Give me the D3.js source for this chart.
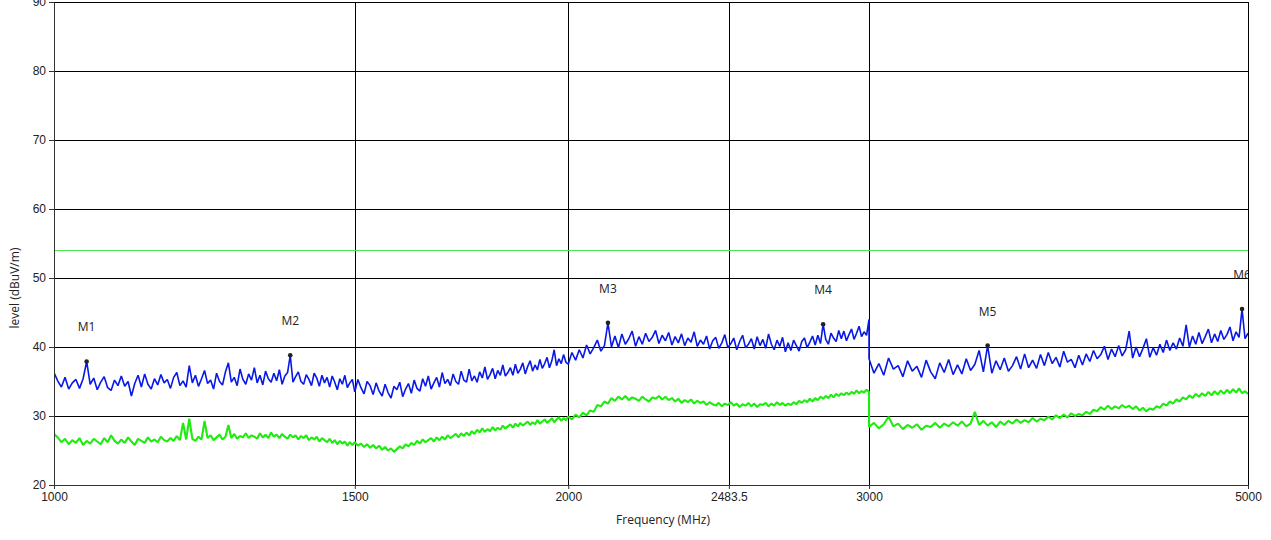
<!DOCTYPE html>
<html>
<head>
<meta charset="utf-8">
<script src="https://cdn.jsdelivr.net/npm/d3@7"></script>
<style>
  html, body { margin: 0; padding: 0; background: #fff; }
  svg { display: block; font-family: "Open Sans", "Noto Sans", sans-serif; }
  .axis text { font-size: 12px; fill: #222; }
  .axis path, .axis line { stroke: #333; }
</style>
</head>
<body>
<svg id="chart" width="1271" height="540"></svg>
<script>
// Sweep bands (MHz): [start, stop, step] - one level reading per step
var sweepBands = [[1000, 1495, 5], [1500, 1993.75, 6.25], [2000, 3000, 10], [3000, 5000, 20]];

// Peak trace (blue), dBuV/m
var blueA = [
  36.3, 35.1, 34.2, 35.6, 33.9, 34.8, 35.3, 34.0, 35.4, 37.9,
  34.6, 35.5, 33.8, 34.9, 35.7, 34.1, 33.7, 35.2, 34.4, 35.8,
  34.3, 35.0, 32.9, 34.7, 35.9, 34.2, 36.1, 34.6, 33.9, 35.4,
  34.5, 36.0, 34.8, 35.3, 34.0, 35.6, 36.3, 34.4, 35.1, 34.2,
  37.3, 34.8, 35.9, 34.3, 35.4, 36.6, 34.7, 35.2, 33.9, 36.2,
  35.0, 34.5, 36.4, 37.7, 34.9, 35.6, 34.4, 36.8, 35.3, 34.6,
  36.1, 35.2, 37.0, 34.8, 35.9, 34.5, 36.5, 35.4, 34.9, 36.2,
  35.1, 36.7, 34.6, 35.8, 36.3, 38.8, 34.9, 35.7, 36.4, 35.0,
  34.6, 36.0, 35.3, 34.4, 36.2, 35.5, 34.3, 35.9, 34.8, 35.6,
  34.2, 35.8, 34.9, 33.8, 35.4, 34.6, 35.9, 34.1, 34.8, 35.3
];
var blueB = [
  33.5, 35.3, 34.1, 33.2, 35.0, 34.4, 33.1, 34.8, 33.6, 32.9,
  34.6, 33.4, 32.6, 34.3, 33.8, 34.9, 32.8, 33.9, 34.7, 33.3,
  35.2, 34.0, 33.6, 35.4, 34.3, 35.8, 33.9, 34.8, 35.6, 34.2,
  36.3, 34.7, 35.3, 34.4, 36.1, 35.0, 34.6, 36.5, 35.2, 34.9,
  36.8, 35.1, 35.8, 34.9, 36.4, 35.5, 37.1, 35.3, 36.0, 36.9,
  35.4, 36.6, 35.9, 37.4, 35.8, 36.3, 37.0, 35.9, 37.5, 36.2,
  36.8, 37.7, 36.1, 37.2, 38.0, 36.5, 37.4, 36.7, 38.2, 36.9,
  37.6, 38.5, 37.0, 38.0, 39.6, 37.3, 38.3, 37.6, 38.9, 37.8
];
var blueC = [
  37.5, 39.2, 38.1, 39.6, 38.4, 40.3, 39.0, 39.9, 41.0, 39.4,
  40.2, 43.5, 40.0, 41.6, 39.9, 41.9, 40.4, 41.2, 42.3, 40.1,
  41.5, 40.4, 42.0, 40.8, 41.4, 42.4, 40.5, 41.7, 40.9, 42.1,
  40.3, 41.5, 40.6, 41.9, 40.2, 41.3, 40.7, 42.2, 40.1, 41.0,
  40.4, 41.6, 39.7, 40.9, 41.4, 39.8, 40.6, 41.8, 39.9, 40.5,
  41.3, 39.6, 40.8, 41.7, 39.9, 40.4, 41.2, 39.7, 41.5, 40.2,
  41.1, 39.8, 41.9, 40.4, 39.6, 41.0, 40.1, 41.4, 39.3, 40.6,
  39.5, 41.0, 40.2, 39.4, 40.8, 41.3, 39.9, 40.7, 41.6, 40.3,
  41.7, 40.5, 43.3, 41.1, 40.4, 42.0, 41.3, 40.8, 42.4, 41.2,
  42.3, 40.9, 41.8, 42.6, 41.1, 42.0, 43.0, 41.5, 42.2, 41.7,
  44.0
];
var blueD = [
  38.3, 36.2, 37.6, 35.9, 38.4, 36.8, 37.3, 35.7, 38.0, 36.5,
  37.2, 35.6, 38.1, 36.4, 35.4, 37.7, 36.3, 38.2, 36.0, 37.4,
  36.1, 38.3, 36.6, 37.5, 39.5, 36.4, 40.2, 36.2, 38.0, 36.7,
  38.4, 36.5, 37.3, 38.6, 36.8, 39.0, 37.0, 38.1, 36.9, 38.9,
  37.3, 39.2, 37.6, 38.5, 37.1, 39.4, 37.8, 38.2, 37.0, 38.8,
  37.4, 39.0, 37.9, 39.5, 38.3, 38.9, 40.1, 38.2, 39.7, 38.6,
  40.2, 38.7, 39.6, 42.3, 38.4, 40.0, 38.6, 39.8, 41.2, 38.5,
  39.9, 38.8, 40.4, 39.2, 41.0, 39.5, 40.6, 39.7, 41.3, 40.1,
  43.2, 40.0, 41.6, 40.4, 42.1, 40.5, 41.5, 42.6, 40.6, 41.9,
  40.8, 42.4, 41.1, 41.8, 42.9, 40.9, 42.2, 41.4, 45.5, 41.2,
  42.0
];

// Average trace (green), dBuV/m
var greenA = [
  27.4, 26.9, 26.2, 26.7, 25.9, 26.5, 26.1, 26.8, 25.8, 26.4,
  26.0, 26.7, 26.3, 25.9, 26.8, 26.2, 27.2, 26.4, 26.0, 26.6,
  26.1, 26.9, 26.3, 25.8, 26.7, 26.4, 26.1, 26.9, 26.3, 26.6,
  26.2, 27.0, 26.5, 26.3, 26.8, 26.4, 27.1, 26.5, 29.0, 26.6,
  29.6, 26.7, 26.4, 27.0, 26.6, 29.3, 26.8, 27.2, 26.5, 26.9,
  27.3, 26.6, 27.0, 28.7, 26.8, 27.4, 26.7, 27.1, 26.9, 27.5,
  26.8, 27.2, 27.0, 26.7, 27.5, 26.9, 27.3, 26.8, 27.6, 27.0,
  27.3, 26.8, 27.4, 27.0, 26.7, 27.3, 26.9, 27.2, 26.6, 27.1,
  26.8, 27.2, 26.5, 26.9, 26.6, 27.0, 26.3, 26.8, 26.5, 26.2,
  26.7, 26.1, 26.5, 25.9, 26.4, 26.0, 26.3, 25.7, 26.2, 25.8
];
var greenB = [
  26.2, 25.7, 26.0, 25.5, 25.9, 25.4, 25.8, 25.3, 25.7, 25.1,
  25.5, 25.0, 25.3, 24.8, 25.2, 25.6, 25.3, 25.9, 25.6, 26.1,
  25.8, 26.4, 26.0, 26.6, 26.2, 26.5, 26.8, 26.3, 26.9, 26.5,
  27.0, 26.6, 27.2, 26.8, 27.1, 27.4, 26.9, 27.5, 27.1, 27.6,
  27.2, 27.8, 27.4, 28.0, 27.6, 28.2, 27.7, 28.1, 27.8, 28.4,
  27.9, 28.3, 28.0, 28.6, 28.2, 28.5, 28.8, 28.3, 28.9, 28.5,
  29.0, 28.6, 28.9, 29.2, 28.7, 29.1, 28.8, 29.4, 28.9, 29.2,
  29.5, 29.0, 29.3, 29.7, 29.1, 29.5, 29.8, 29.3, 29.7, 29.4
];
var greenC = [
  29.9, 29.5, 30.2, 29.8, 30.5, 30.1, 30.8, 30.6, 31.6, 31.4,
  32.1, 31.8, 32.6, 32.2, 32.8, 32.4, 32.9, 32.3, 32.7, 32.5,
  32.2, 32.8, 32.4, 32.1, 32.7, 32.5, 32.9, 32.4, 32.8, 32.3,
  32.6, 32.1, 32.5, 31.9, 32.3, 32.0, 32.4, 31.8, 32.2, 31.9,
  32.1, 31.6, 32.0, 31.7, 31.5, 31.9, 31.4, 31.8, 31.6, 32.0,
  31.5, 31.8, 31.3, 31.7, 31.5, 31.9, 31.4, 31.8, 31.3, 31.7,
  31.6, 31.9, 31.4, 31.8, 31.5, 32.0, 31.6, 31.9, 31.5, 31.8,
  31.6, 32.0, 31.7, 32.2, 31.9, 32.3, 32.0, 32.5, 32.1, 32.6,
  32.3, 32.8, 32.5, 32.9, 32.6, 33.1, 32.7, 33.2, 32.9, 33.3,
  33.0, 33.4, 33.1, 33.5, 33.2, 33.7, 33.3, 33.6, 33.4, 33.8,
  33.5
];
var greenD = [
  28.4, 29.0, 28.2, 28.8, 29.9, 28.5, 28.9, 28.1, 28.7, 28.3,
  28.8, 28.0, 28.6, 28.4, 29.0, 28.3, 28.9, 28.5, 29.1, 28.6,
  29.2, 28.5, 28.9, 30.6, 28.7, 29.3, 28.6, 29.1, 28.4, 29.2,
  28.7, 29.3, 28.9, 29.5, 29.0, 29.4, 29.1, 29.7, 29.2, 29.6,
  29.4, 29.9, 29.5, 30.1, 29.7, 30.2, 29.8, 30.4, 30.0, 30.3,
  30.1, 30.6, 30.3, 30.9, 30.7, 31.3, 30.9, 31.5, 31.0, 31.4,
  31.1, 31.6, 31.2, 31.5, 31.0, 31.4, 30.8, 31.2, 30.7, 31.1,
  30.9, 31.4, 31.2, 31.8, 31.5, 32.1, 31.8, 32.4, 32.1, 32.7,
  32.4, 33.0, 32.6, 33.2, 32.8, 33.3, 32.9, 33.5, 33.0, 33.6,
  33.1, 33.7, 33.2, 33.8, 33.3, 33.9, 33.4, 34.0, 33.3, 33.6,
  33.2
];

var limitLevel = 54;

var markerNames = ["M1", "M2", "M3", "M4", "M5", "M6"];
var markerFreqs = [1045, 1375, 2110, 2820, 3520, 4960];
var markerLevels = [37.9, 38.8, 43.5, 43.3, 40.2, 45.5];

var xTicks = [1000, 1500, 2000, 2483.5, 3000, 5000];
var yTicks = [20, 30, 40, 50, 60, 70, 80, 90];

// ---------------------------------------------------------------------
var margin = {left: 54, right: 23, top: 2, bottom: 55};
var width = 1271 - margin.left - margin.right;
var height = 540 - margin.top - margin.bottom;

var svg = d3.select("#chart");
var g = svg.append("g")
    .attr("transform", "translate(" + margin.left + "," + margin.top + ")");

var x = d3.scaleLog().domain([1000, 5000]).range([0, width]);
var y = d3.scaleLinear().domain([20, 90]).range([height, 0]);

// frequency grid of each band
var freqs = [];
sweepBands.forEach(function (b) {
    freqs = freqs.concat(d3.range(b[0], b[1] + b[2] / 2, b[2]));
});
var blue = [].concat(blueA, blueB, blueC, blueD);
var green = [].concat(greenA, greenB, greenC, greenD);

svg.append("defs").append("clipPath").attr("id", "plot-clip")
    .append("rect").attr("width", width).attr("height", height);

// grid
g.append("g").selectAll("line").data(yTicks.slice(1)).join("line")
    .attr("x1", 0).attr("x2", width)
    .attr("y1", function (d) { return Math.round(y(d)) + 0.5; })
    .attr("y2", function (d) { return Math.round(y(d)) + 0.5; })
    .attr("stroke", "#000").attr("stroke-width", 1);

g.append("g").selectAll("line").data(xTicks.slice(1)).join("line")
    .attr("y1", 0).attr("y2", height)
    .attr("x1", function (d) { return Math.round(x(d)) + 0.5; })
    .attr("x2", function (d) { return Math.round(x(d)) + 0.5; })
    .attr("stroke", "#000").attr("stroke-width", 1);

// limit line
g.append("line")
    .attr("x1", 0).attr("x2", width)
    .attr("y1", Math.round(y(limitLevel)) + 0.5)
    .attr("y2", Math.round(y(limitLevel)) + 0.5)
    .attr("stroke", "#4de64d").attr("stroke-width", 1);

var line = d3.line()
    .x(function (d) { return x(d[0]); })
    .y(function (d) { return y(d[1]); });

var traces = g.append("g").attr("clip-path", "url(#plot-clip)");

traces.append("path")
    .datum(d3.zip(freqs, green))
    .attr("d", line)
    .attr("fill", "none")
    .attr("stroke", "#1eec0e")
    .attr("stroke-width", 2.1)
    .attr("stroke-linejoin", "bevel");

traces.append("path")
    .datum(d3.zip(freqs, blue))
    .attr("d", line)
    .attr("fill", "none")
    .attr("stroke", "#0818e6")
    .attr("stroke-width", 1.6)
    .attr("stroke-linejoin", "bevel");

// markers
var markers = d3.zip(markerNames, markerFreqs, markerLevels);
var mk = g.append("g").attr("clip-path", "url(#plot-clip)");
mk.selectAll("circle").data(markers).join("circle")
    .attr("cx", function (d) { return x(d[1]); })
    .attr("cy", function (d) { return y(d[2]); })
    .attr("r", 2.3)
    .attr("fill", "#222");
mk.selectAll("text").data(markers).join("text")
    .attr("x", function (d) { return x(d[1]); })
    .attr("y", function (d) { return y(d[2]) - 30; })
    .attr("text-anchor", "middle")
    .attr("font-size", 12)
    .attr("fill", "#222")
    .text(function (d) { return d[0]; });

// axes
var xAxis = d3.axisBottom(x)
    .tickValues(xTicks)
    .tickFormat(function (d) { return String(d); })
    .tickSize(4).tickSizeOuter(0).tickPadding(3);
g.append("g").attr("class", "axis")
    .attr("transform", "translate(0," + height + ")")
    .call(xAxis);

var yAxis = d3.axisLeft(y)
    .tickValues(yTicks)
    .tickSize(5).tickSizeOuter(0).tickPadding(3);
g.append("g").attr("class", "axis").call(yAxis);

// right border
g.append("line")
    .attr("x1", width + 0.5).attr("x2", width + 0.5)
    .attr("y1", 0).attr("y2", height)
    .attr("stroke", "#000");

svg.append("text")
    .attr("transform", "translate(19,288) rotate(-90)")
    .attr("text-anchor", "middle")
    .attr("font-size", 12)
    .attr("fill", "#222")
    .text("level (dBuV/m)");

svg.append("text")
    .attr("x", 663).attr("y", 524)
    .attr("text-anchor", "middle")
    .attr("font-size", 12)
    .attr("fill", "#222")
    .text("Frequency (MHz)");
</script>
</body>
</html>
